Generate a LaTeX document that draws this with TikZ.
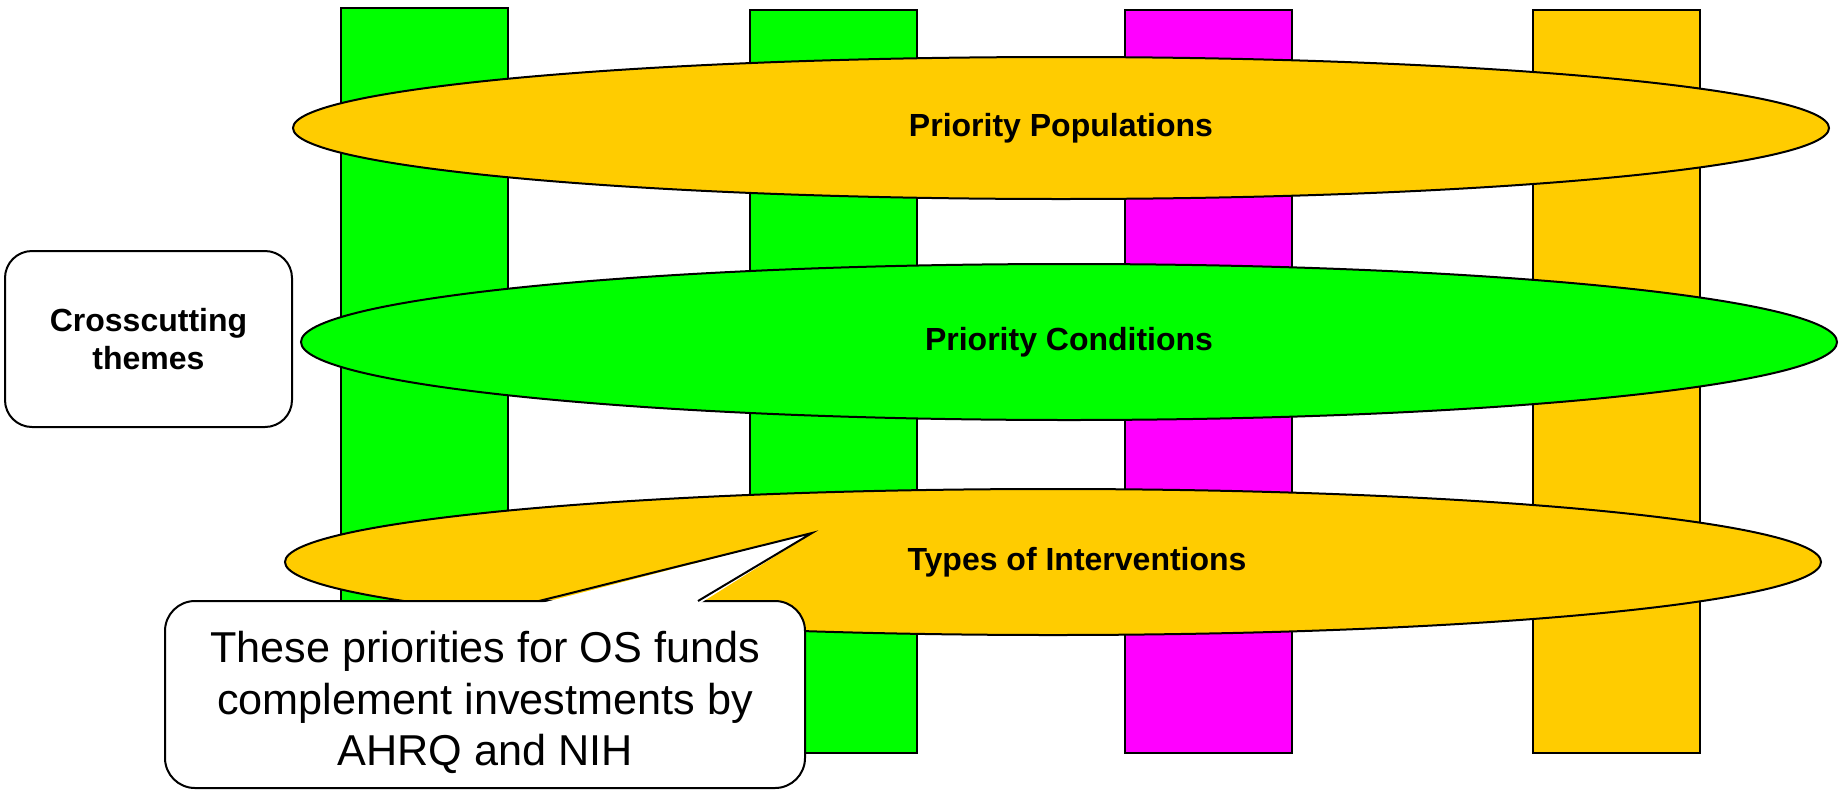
\documentclass[tikz,border=0pt]{standalone}
\usepackage{fontspec}
\setmainfont{Liberation Sans}
\usetikzlibrary{shapes.geometric}

\definecolor{barGreen}{HTML}{00FF00}
\definecolor{barMagenta}{HTML}{FF00FF}
\definecolor{barGold}{HTML}{FFCC00}

\begin{document}
\begin{tikzpicture}[
    x=0.5pt, y=-0.5pt,
    line width=1pt,
    bar/.style={
        draw,
        rectangle,
        minimum width=83.5pt,
        inner sep=0pt
    },
    theme/.style={
        draw,
        ellipse,
        minimum width=768pt,
        inner sep=0pt,
        font=\bfseries\fontsize{16}{19}\selectfont
    },
    box/.style={
        draw,
        fill=white,
        align=center,
        inner sep=0pt
    }
]
\useasboundingbox (0,0) rectangle (1845,793);

% Vertical pillars
\node[bar, fill=barGreen,   minimum height=372.5pt] (bar1) at (424.5,380.5) {};
\node[bar, fill=barGreen,   minimum height=371.5pt] (bar2) at (833,381.5) {};
\node[bar, fill=barMagenta, minimum height=371.5pt] (bar3) at (1208.5,381.5) {};
\node[bar, fill=barGold,    minimum height=371.5pt] (bar4) at (1616.5,381.5) {};

% Crosscutting themes (laid over the pillars)
\node[theme, fill=barGold,  minimum height=71pt] (pop)   at (1061,128) {Priority Populations};
\node[theme, fill=barGreen, minimum height=78pt] (cond)  at (1069,342) {Priority Conditions};
\node[theme, fill=barGold,  minimum height=73pt] (types) at (1053,562)
      {\hspace*{24pt}Types of Interventions};

% Side label
\node[box, rounded corners=13.5pt, minimum width=143.5pt, minimum height=88pt,
      font=\bfseries\fontsize{16}{19}\selectfont] (cross) at (148.5,339) {Crosscutting\\themes};

% Callout
\node[box, rounded corners=15pt, minimum width=320pt, minimum height=93.5pt,
      label={[font=\fontsize{21.6}{25.8}\selectfont, align=center, yshift=-4pt]center:
      These priorities for OS funds\\complement investments by\\AHRQ and NIH}] (note) at (485,694.5) {};

\coordinate (tip) at (812,533);
\coordinate (pl) at (539,601);
\coordinate (pr) at (698,601);
\fill[white] (538,604) -- (tip) -- (699,604) -- cycle;
\draw[line join=miter] (pl) -- (tip) -- (pr);

\end{tikzpicture}
\end{document}
